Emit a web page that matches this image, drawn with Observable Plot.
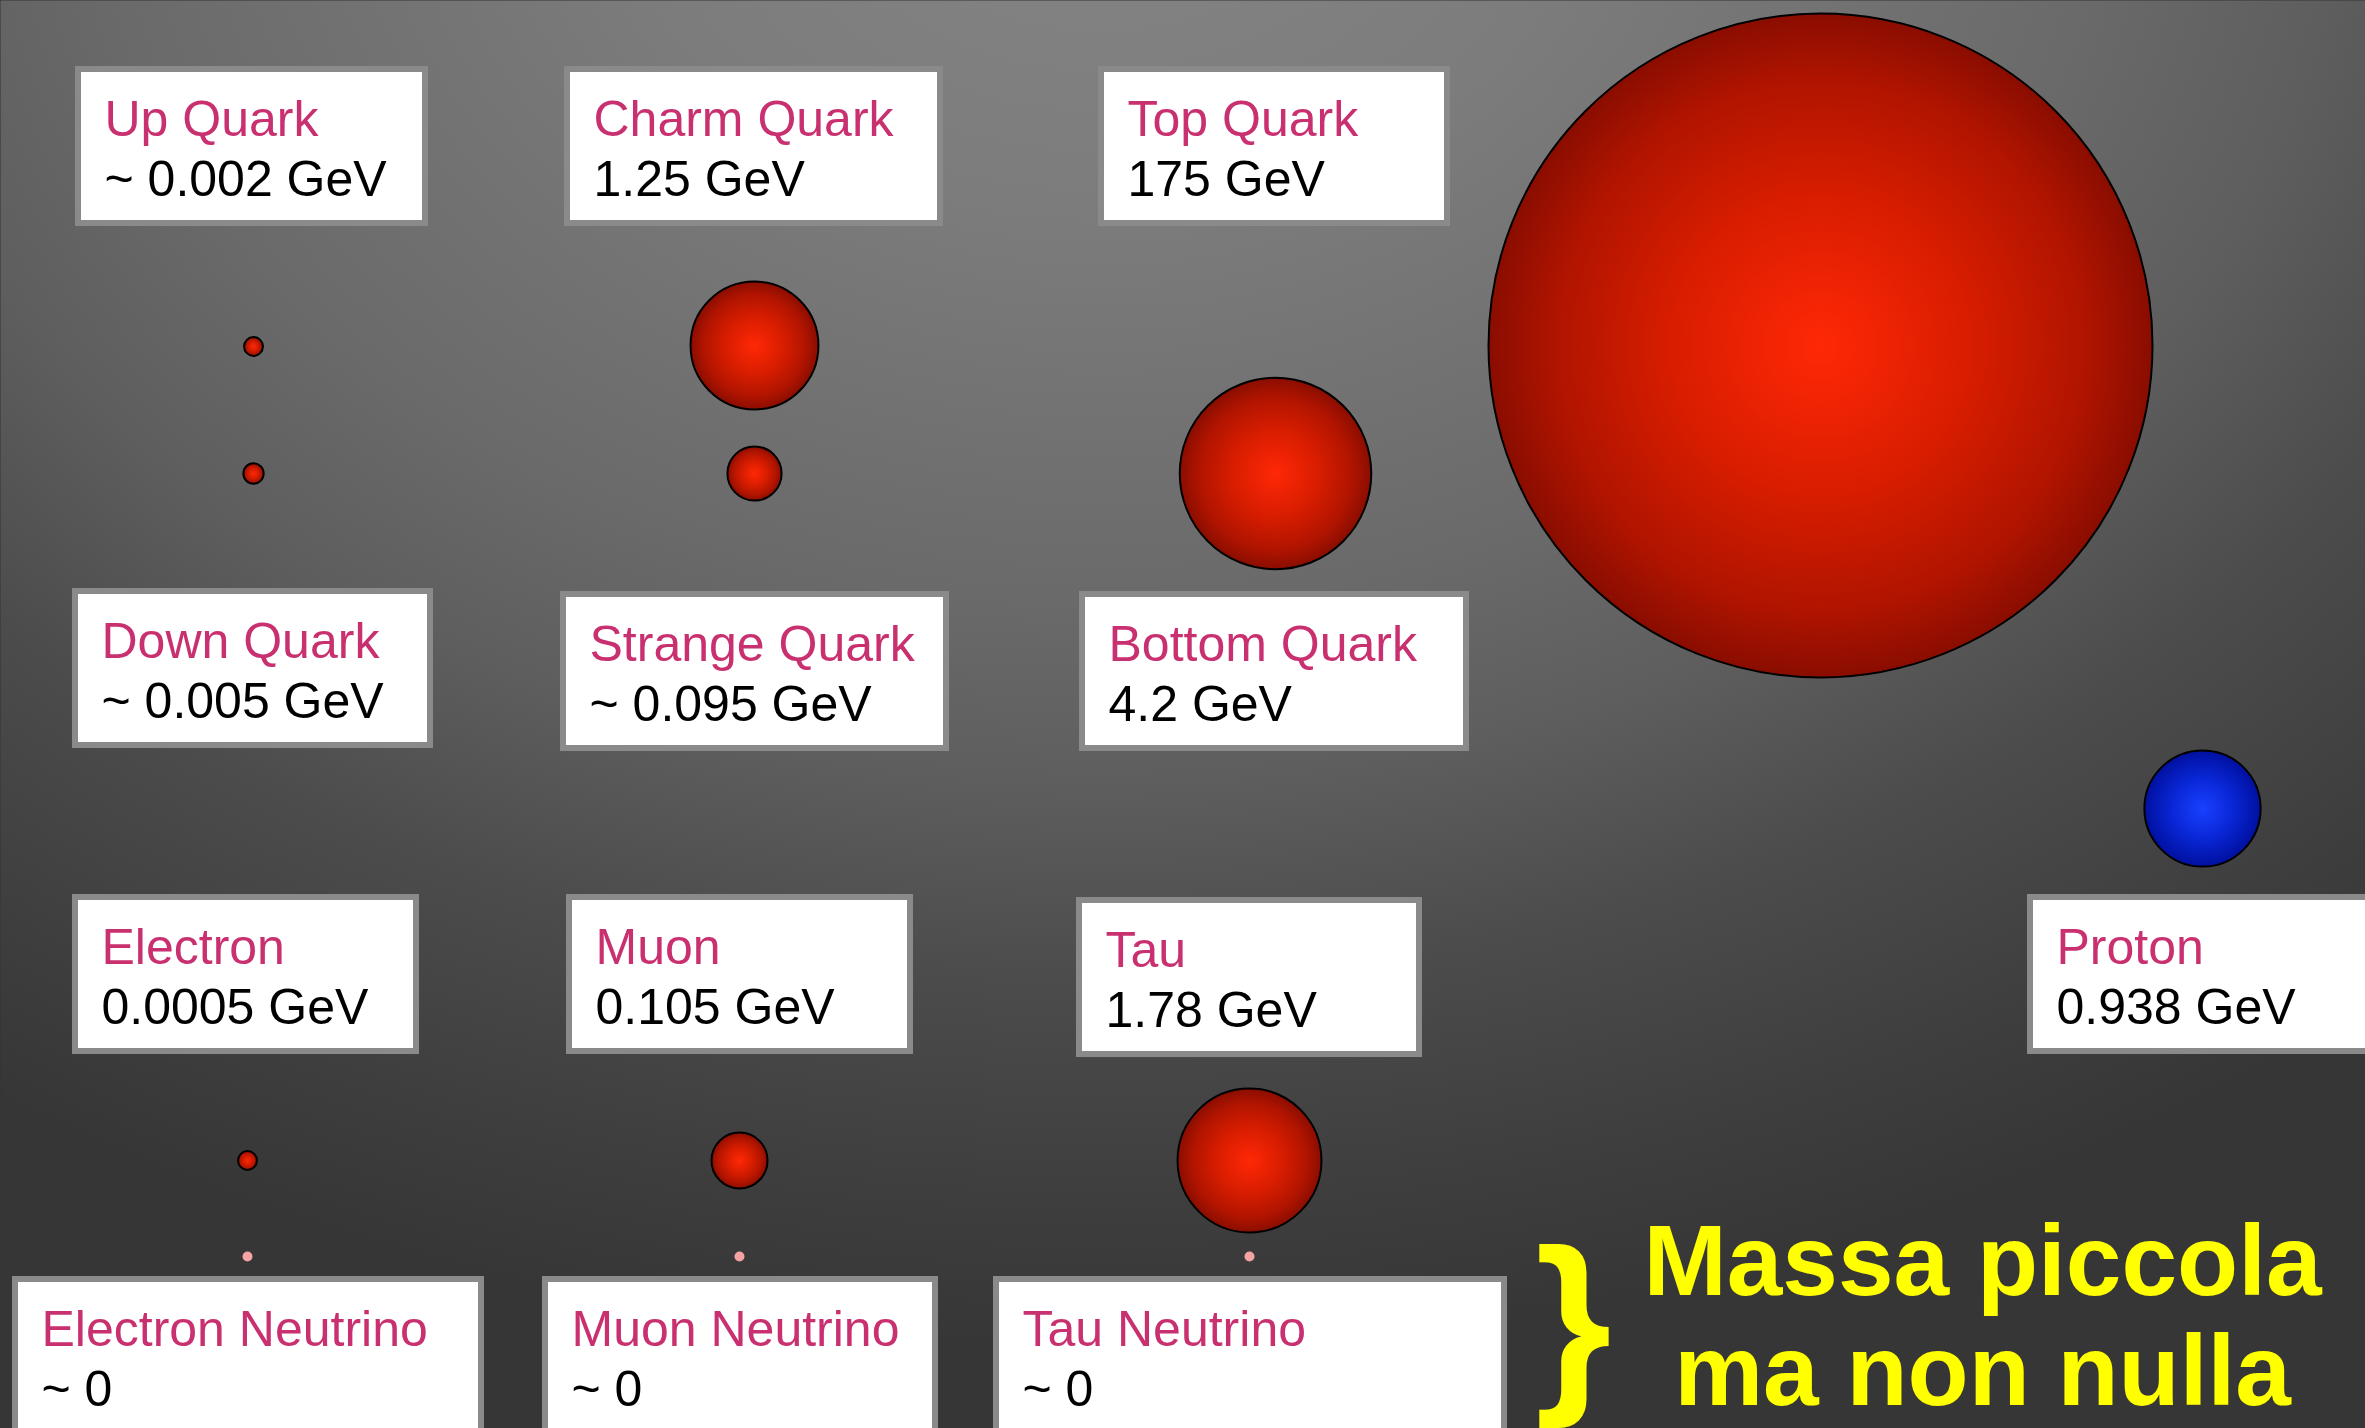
<!DOCTYPE html>
<html>
<head>
<meta charset="utf-8">
<script src="https://cdn.jsdelivr.net/npm/d3@7"></script>
<script src="https://cdn.jsdelivr.net/npm/@observablehq/plot@0.6"></script>
<style>
  html, body { margin: 0; padding: 0; background: #333; overflow: hidden; }
  #chart svg { display: block; }
</style>
</head>
<body>
<div id="chart"></div>
<script>
// ---- data ----
const particles = ["Up Quark", "Down Quark", "Charm Quark", "Strange Quark", "Top Quark", "Bottom Quark",
  "Electron", "Muon", "Tau", "Proton", "Electron Neutrino", "Muon Neutrino", "Tau Neutrino"];
const massGeV = [0.002, 0.005, 1.25, 0.095, 175, 4.2, 0.0005, 0.105, 1.78, 0.938, 0, 0, 0];
const massLabels = ["~ 0.002 GeV", "~ 0.005 GeV", "1.25 GeV", "~ 0.095 GeV", "175 GeV", "4.2 GeV",
  "0.0005 GeV", "0.105 GeV", "1.78 GeV", "0.938 GeV", "~ 0", "~ 0", "~ 0"];
const kinds = ["fermion", "fermion", "fermion", "fermion", "fermion", "fermion",
  "fermion", "fermion", "fermion", "hadron", "neutrino", "neutrino", "neutrino"];
const captionLines = ["Massa piccola", "ma non nulla"];

// ---- layout (page coordinates) ----
const sphereX = [253, 253, 754, 754, 1820, 1275, 247, 739, 1249, 2202, 247, 739, 1249];
const sphereY = [346, 473, 345, 473, 345, 473, 1160, 1160, 1160, 808, 1256, 1256, 1256];
const boxX1 = [78, 75, 567, 563, 1101, 1082, 75, 569, 1079, 2030, 15, 545, 996];
const boxX2 = [425, 430, 940, 946, 1447, 1466, 416, 910, 1419, 2380, 481, 935, 1504];
const boxY1 = [69, 591, 69, 594, 69, 594, 897, 897, 900, 897, 1279, 1279, 1279];
const boxH = 154;

const W = 2365, H = 1428;
const rows = particles.map((name, i) => ({
  name, mass: massGeV[i], label: massLabels[i], kind: kinds[i],
  cx: sphereX[i], cy: sphereY[i],
  x1: boxX1[i], x2: boxX2[i], y1: boxY1[i], y2: boxY1[i] + boxH
}));
const massive = rows.filter(d => d.kind !== "neutrino");
const neutrinos = rows.filter(d => d.kind === "neutrino");
const caption = captionLines.map((t, i) => ({t, x: 1982, y: [1294, 1404][i]}));

const font = "Liberation Sans, Arial, Helvetica, sans-serif";

const chart = Plot.plot({
  width: W,
  height: H,
  margin: 0,
  x: {domain: [0, W], range: [0, W], axis: null},
  y: {domain: [0, H], range: [0, H], axis: null},
  r: {type: "pow", exponent: 1 / 3, domain: [0, 175], range: [0, 332]},
  style: {fontFamily: font, background: "#333"},
  marks: [
    Plot.frame({fill: "url(#bg)", stroke: "none"}),
    // spheres (volume proportional to mass)
    Plot.dot(massive, {
      x: "cx", y: "cy",
      r: d => Math.max(d.mass, 0.004),
      fill: d => d.kind === "hadron" ? "url(#blueBall)" : "url(#redBall)",
      stroke: "#000", strokeWidth: 2
    }),
    Plot.dot(neutrinos, {x: "cx", y: "cy", r: 5, fill: "#f5a3a3", stroke: "none"}),
    // label boxes
    Plot.rect(rows, {x1: "x1", x2: "x2", y1: "y1", y2: "y2", fill: "#ffffff", stroke: "#8a8a8a", strokeWidth: 6}),
    Plot.text(rows, {x: d => d.x1 + 26, y: d => d.y1 + 66, text: "name", textAnchor: "start", lineAnchor: "bottom",
      fill: "#c9306f", fontSize: 50, fontFamily: font}),
    Plot.text(rows, {x: d => d.x1 + 26, y: d => d.y1 + 126, text: "label", textAnchor: "start", lineAnchor: "bottom",
      fill: "#000", fontSize: 50, fontFamily: font}),
    // caption
    Plot.text(["}"], {x: 1573, y: 1386, text: d => d, textAnchor: "middle", lineAnchor: "bottom",
      fill: "#ffff00", fontSize: 196, fontWeight: "bold", fontFamily: font, ariaLabel: "caption"}),
    Plot.text(caption, {x: "x", y: "y", text: "t", textAnchor: "middle", lineAnchor: "bottom",
      fill: "#ffff00", fontSize: 100, fontWeight: "bold", fontFamily: font, ariaLabel: "caption"})
  ]
});

// gradients
const defs = d3.select(chart).insert("defs", ":first-child");
const bg = defs.append("radialGradient").attr("id", "bg")
  .attr("gradientUnits", "userSpaceOnUse")
  .attr("cx", 1100).attr("cy", -150).attr("r", 1500)
  .attr("gradientTransform", "translate(1100,-150) scale(1.333,1) translate(-1100,150)");
[[0, "#858585"], [0.24, "#7c7c7c"], [0.5, "#6a6a6a"], [0.62, "#5e5e5e"], [0.75, "#4c4c4c"], [0.9, "#3e3e3e"], [1, "#363636"]]
  .forEach(([o, c]) => bg.append("stop").attr("offset", o).attr("stop-color", c));
const red = defs.append("radialGradient").attr("id", "redBall").attr("cx", "50%").attr("cy", "50%").attr("r", "50%");
[[0, "#ff2806"], [0.45, "#d81d00"], [0.8, "#b01400"], [1, "#8a0d00"]]
  .forEach(([o, c]) => red.append("stop").attr("offset", o).attr("stop-color", c));
const blue = defs.append("radialGradient").attr("id", "blueBall").attr("cx", "50%").attr("cy", "50%").attr("r", "50%");
[[0, "#1a40ff"], [0.5, "#0a28d8"], [1, "#0010a0"]]
  .forEach(([o, c]) => blue.append("stop").attr("offset", o).attr("stop-color", c));

d3.select(chart).selectAll("[aria-label=caption]").style("filter", "drop-shadow(3px 4px 4px rgba(0,0,0,0.7))");

document.getElementById("chart").appendChild(chart);
</script>
</body>
</html>
